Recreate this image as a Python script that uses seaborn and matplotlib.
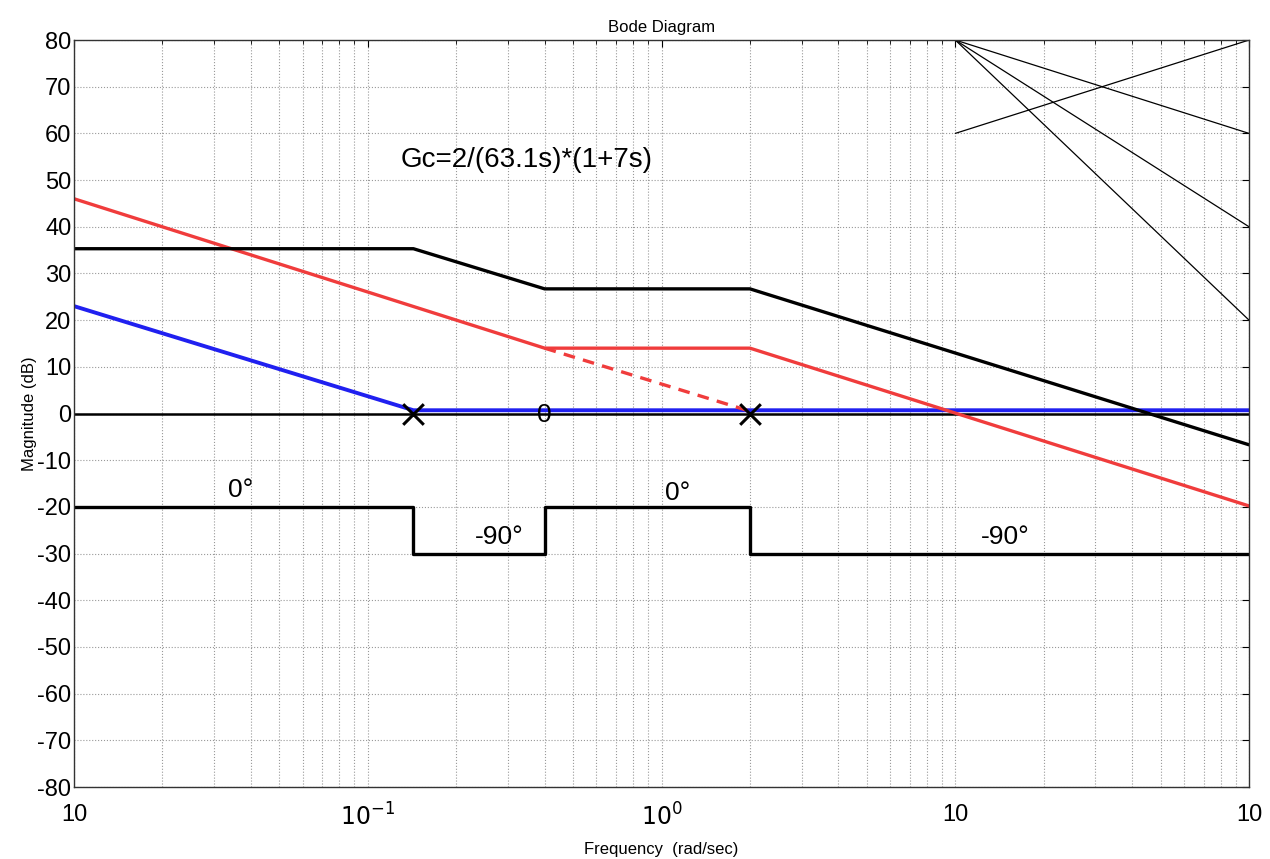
import numpy as np
import pandas as pd
import matplotlib
matplotlib.use("Agg")
import matplotlib.pyplot as plt
import seaborn as sns

sns.set_style("white")
plt.rcParams['font.family'] = ['Liberation Sans', 'DejaVu Sans']
plt.rcParams['axes.unicode_minus'] = False
plt.rcParams['text.color'] = 'black'
plt.rcParams['axes.labelcolor'] = 'black'
plt.rcParams['xtick.color'] = 'black'
plt.rcParams['ytick.color'] = 'black'

# ---- data ----
# asymptotic magnitude curves (frequency in rad/s, magnitude in dB)
total_w = [0.01, 0.143, 0.4, 0.4, 2.0, 100]
total_db = [35.3, 35.3, 26.7, 26.7, 26.7, -6.7]

red_w = [0.01, 0.4, 0.4, 2.0, 100]
red_db = [46.0, 14.0, 14.0, 14.0, -19.8]
red_dash_w = [0.4, 2.0]
red_dash_db = [14.0, 0.5]

blue_w = [0.01, 0.143, 100]
blue_db = [23.0, 0.7, 0.7]

zero_w = [0.01, 100]
zero_db = [0, 0]

# phase steps (drawn on the magnitude scale)
phase_w = [0.01, 0.143, 0.143, 0.4, 0.4, 2.0, 2.0, 100]
phase_db = [-20, -20, -30, -30, -20, -20, -30, -30]

# slope reference lines in the corner
ref_lines = [([10, 100], [80, 60]),
             ([10, 100], [80, 40]),
             ([10, 100], [80, 20]),
             ([10, 100], [60, 80])]

pole_w = [0.143, 2.0]
pole_db = [0, 0]

phase_labels = [(0.037, -16.4, "0°"), (0.28, -26.4, "-90°"),
                (1.13, -17.0, "0°"), (14.8, -26.4, "-90°")]

xtick_pos = [0.01, 0.1, 1, 10, 100]
xtick_lab = ['10', '$10^{-1}$', '$10^{0}$', '10', '10']
ytick_pos = list(range(-80, 81, 10))

# ---- plot ----
fig = plt.figure(figsize=(12.7, 8.59), dpi=100)
ax = fig.add_axes([0.0583, 0.0838, 0.9252, 0.8696])

def draw(w, db, **kw):
    df = pd.DataFrame({'w': w, 'db': db})
    sns.lineplot(data=df, x='w', y='db', sort=False, estimator=None, ax=ax, **kw)

for xs, ys in ref_lines:
    draw(xs, ys, color='black', linewidth=0.9)

draw(zero_w, zero_db, color='black', linewidth=1.8)
draw(blue_w, blue_db, color='#2020f0', linewidth=2.8)
draw(red_w, red_db, color='#f03c3c', linewidth=2.4)
draw(red_dash_w, red_dash_db, color='#f03c3c', linewidth=2.4, linestyle=(0, (3.5, 2.5)))
draw(total_w, total_db, color='black', linewidth=2.4)
draw(phase_w, phase_db, color='black', linewidth=2.4)

ax.scatter(pole_w, pole_db, marker='x', s=220, color='black', linewidths=2.2, zorder=5)

ax.text(0.4, -0.3, "0", fontsize=19, ha='center', va='center')
for xw, yd, s in phase_labels:
    ax.text(xw, yd, s, fontsize=19, ha='center', va='center')
ax.text(0.348, 54.3, "Gc=2/(63.1s)*(1+7s)", fontsize=20, ha='center', va='center')

ax.set_xscale('log')
ax.set_xlim(0.01, 100)
ax.set_ylim(-80, 80)
ax.set_xticks(xtick_pos)
ax.set_xticklabels(xtick_lab)
ax.set_yticks(ytick_pos)
ax.tick_params(which='both', direction='in', top=True, right=True, labelsize=17)
ax.tick_params(which='major', length=5)
ax.tick_params(which='minor', length=3)
ax.tick_params(axis='x', pad=12)
ax.tick_params(axis='y', pad=2)
ax.grid(True, which='major', color='#999999', linestyle=':', linewidth=0.8)
ax.grid(True, which='minor', axis='x', color='#999999', linestyle=':', linewidth=0.8)
for sp in ax.spines.values():
    sp.set_color('#333333')
    sp.set_linewidth(1.0)

ax.set_title("Bode Diagram", fontsize=12, pad=6)
ax.set_xlabel("Frequency  (rad/sec)", fontsize=12, labelpad=8)
ax.set_ylabel("Magnitude (dB)", fontsize=12, labelpad=0)

fig.savefig("out.png", dpi=100)
